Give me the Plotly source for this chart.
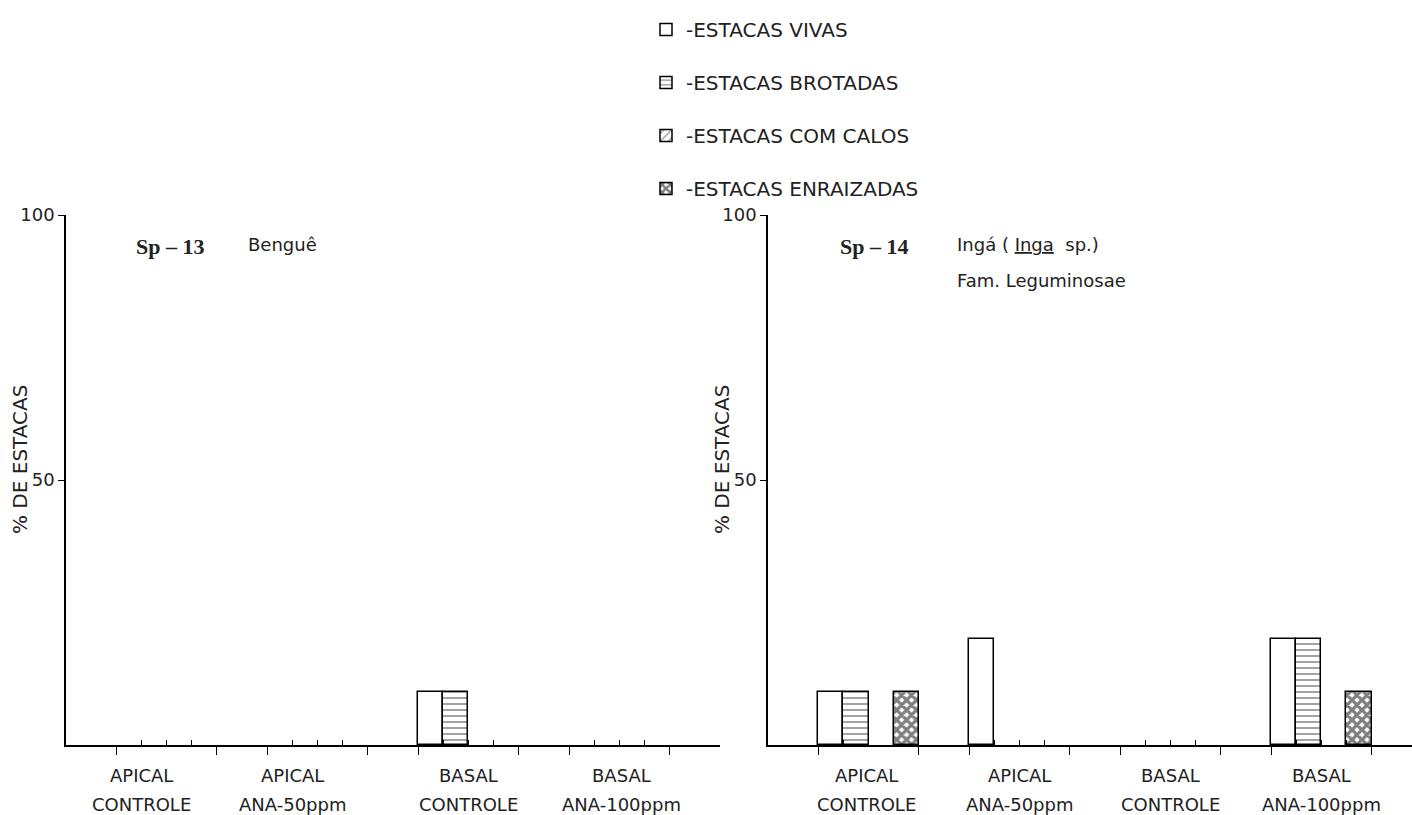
import plotly.graph_objects as go

# ---------------- data ----------------
groups_pos = ["APICAL", "APICAL", "BASAL", "BASAL"]
groups_trt = ["CONTROLE", "ANA-50ppm", "CONTROLE", "ANA-100ppm"]
series_names = ["-ESTACAS VIVAS", "-ESTACAS BROTADAS", "-ESTACAS COM CALOS", "-ESTACAS ENRAIZADAS"]

sp13_vivas = [0, 0, 10, 0]
sp13_brotadas = [0, 0, 10, 0]
sp13_calos = [0, 0, 0, 0]
sp13_enraizadas = [0, 0, 0, 0]

sp14_vivas = [10, 20, 0, 20]
sp14_brotadas = [10, 0, 0, 20]
sp14_calos = [0, 0, 0, 0]
sp14_enraizadas = [10, 0, 0, 10]

y_tick_vals = [50, 100]
y_tick_text = ["50", "100"]

# ---------------- style ----------------
patterns = ["", "-", "/", "x"]
pat_size = [8, 6, 7, 7]
pat_sol = [0.2, 0.24, 0.2, 0.7]
SANS = "DejaVu Sans"
SERIF = "Liberation Serif"
INK = "#222"

W, H = 1412, 815
ML, MR, MT, MB = 66, 0, 215, 70
PW = W - ML - MR
PH = H - MT - MB


def px(x):
    return (x - ML) / PW


def py(y):
    return (H - MB - y) / PH


SLOT = 25.15
GROUP_START = 2
GROUP_STEP = 6

fig = go.Figure()

charts = [
    ("x", "y", [sp13_vivas, sp13_brotadas, sp13_calos, sp13_enraizadas], False),
    ("x2", "y2", [sp14_vivas, sp14_brotadas, sp14_calos, sp14_enraizadas], True),
]

for xa, ya, vals, show in charts:
    for j, name in enumerate(series_names):
        xs = [GROUP_START + GROUP_STEP * g + j + 0.5 for g in range(len(groups_pos))]
        # zero-height bars are not drawn (they would only thicken the axis line)
        ys = [v if v > 0 else None for v in vals[j]]
        fig.add_trace(go.Bar(
            x=xs, y=ys, width=1.0, name=name,
            xaxis=xa, yaxis=ya,
            legendgroup=name, showlegend=show,
            marker=dict(
                color="white",
                line=dict(color="black", width=1.5),
                pattern=dict(shape=patterns[j], fgcolor="black", bgcolor="white",
                             size=pat_size[j], solidity=pat_sol[j], fillmode="overlay"),
            ),
        ))

# ticks along x
major = []
minor = []
for g in range(len(groups_pos)):
    s = GROUP_START + GROUP_STEP * g
    major += [s, s + 4]
    minor += [s + 1, s + 2, s + 3]

xaxis_common = dict(
    showline=True, linecolor="black", linewidth=1.6, showgrid=False, zeroline=False,
    tickmode="array", tickvals=major, ticktext=[""] * len(major),
    ticks="outside", ticklen=8, tickwidth=1.4, tickcolor="black",
    minor=dict(tickmode="array", tickvals=minor, ticks="inside", ticklen=5,
               tickwidth=1.2, tickcolor="black", showgrid=False),
    fixedrange=True,
)
yaxis_common = dict(
    range=[0, 100], showline=True, linecolor="black", linewidth=1.6,
    showgrid=False, zeroline=False,
    tickmode="array", tickvals=y_tick_vals, ticktext=y_tick_text,
    ticks="outside", ticklen=6, tickwidth=1.4, tickcolor="black",
    tickfont=dict(family=SANS, size=18, color=INK),
    domain=[0, 1], fixedrange=True,
)

left_end = 720
right_start = 768
fig.update_layout(
    width=W, height=H,
    margin=dict(l=ML, r=MR, t=MT, b=MB),
    plot_bgcolor="white", paper_bgcolor="white",
    barmode="overlay", bargap=0,
    xaxis=dict(domain=[0, px(left_end)], range=[0, (left_end - ML) / SLOT], anchor="y", **xaxis_common),
    yaxis=dict(anchor="x", **yaxis_common),
    xaxis2=dict(domain=[px(right_start), 1], range=[0, (W - right_start) / SLOT], anchor="y2", **xaxis_common),
    yaxis2=dict(anchor="x2", **yaxis_common),
    legend=dict(
        x=px(646), y=py(10), xanchor="left", yanchor="top",
        font=dict(family=SANS, size=20, color=INK),
        tracegroupgap=24, bgcolor="rgba(0,0,0,0)",
        itemclick=False, itemdoubleclick=False,
    ),
    showlegend=True,
)

ann = []
# y axis titles
for xa_px in (20, 722):
    ann.append(dict(text="% DE ESTACAS", x=px(xa_px), y=py(460), xref="paper", yref="paper",
                    textangle=-90, showarrow=False, xanchor="center", yanchor="middle",
                    font=dict(family=SANS, size=20, color=INK)))

# category labels
left_offsets = [-1.0, -1.0, 0, 0.1]
for chart, (axis_px, offs) in enumerate([(ML, left_offsets), (right_start, [-0.1, 0, 0, 0])]):
    for g in range(len(groups_pos)):
        cx = axis_px + (GROUP_START + GROUP_STEP * g + 2 + offs[g]) * SLOT
        ann.append(dict(text=groups_pos[g], x=px(cx), y=py(775), xref="paper", yref="paper",
                        showarrow=False, xanchor="center", yanchor="middle",
                        font=dict(family=SANS, size=18, color=INK)))
        ann.append(dict(text=groups_trt[g], x=px(cx), y=py(804), xref="paper", yref="paper",
                        showarrow=False, xanchor="center", yanchor="middle",
                        font=dict(family=SANS, size=18, color=INK)))

# chart titles
ann.append(dict(text="<b>Sp – 13</b>", x=px(134), y=py(246), xref="paper", yref="paper",
                showarrow=False, xanchor="left", yanchor="middle",
                font=dict(family=SERIF, size=22, color=INK)))
ann.append(dict(text="Benguê", x=px(246), y=py(244), xref="paper", yref="paper",
                showarrow=False, xanchor="left", yanchor="middle",
                font=dict(family=SANS, size=18, color=INK)))
ann.append(dict(text="<b>Sp – 14</b>", x=px(838), y=py(246), xref="paper", yref="paper",
                showarrow=False, xanchor="left", yanchor="middle",
                font=dict(family=SERIF, size=22, color=INK)))
ann.append(dict(text="Ingá ( <u>Inga</u>  sp.)", x=px(955), y=py(244), xref="paper", yref="paper",
                showarrow=False, xanchor="left", yanchor="middle",
                font=dict(family=SANS, size=18, color=INK)))
ann.append(dict(text="Fam. Leguminosae", x=px(955), y=py(280), xref="paper", yref="paper",
                showarrow=False, xanchor="left", yanchor="middle",
                font=dict(family=SANS, size=18, color=INK)))

fig.update_layout(annotations=ann)

fig.write_html(
    "out.html",
    config={"displayModeBar": False},
    post_script="document.body.style.margin='0px';document.body.style.overflow='hidden';",
)
